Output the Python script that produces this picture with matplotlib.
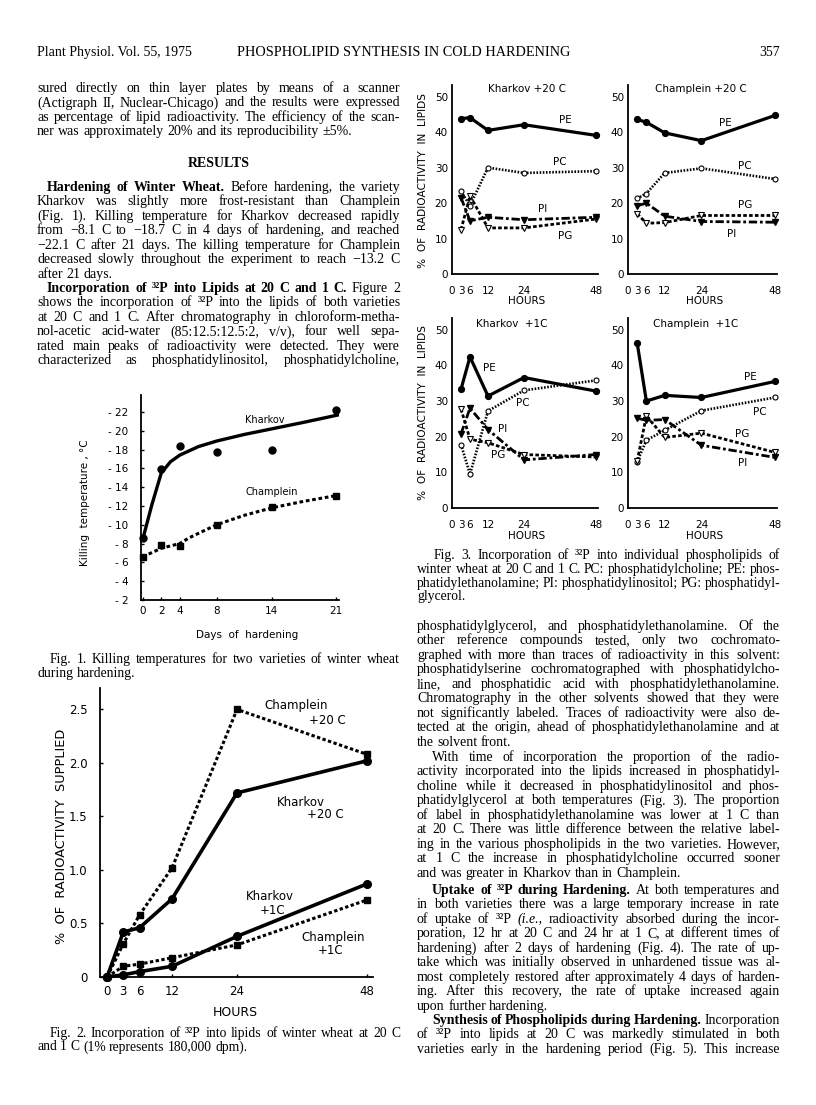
import re
import matplotlib
matplotlib.use("Agg")
import matplotlib.pyplot as plt

# ---------------- Fig. 1: killing temperature (C) vs days of hardening
fig1_days = [0, 2, 4, 8, 14, 21]
kharkov_kill = [-8.6, -15.9, -18.4, -17.7, -17.9, -22.2]
champlein_kill = [-6.6, -7.9, -7.7, -10.0, -11.9, -13.1]
# hand drawn trend curves
kharkov_curve_days = [0, 1, 2, 3, 4, 6, 8, 11, 14, 17.5, 21.3]
kharkov_curve = [-8.5, -12.2, -15.5, -16.7, -17.4, -18.3, -18.9, -19.6, -20.2, -20.9, -21.7]
champlein_curve_days = [0, 2, 4, 5, 8, 11, 14, 17.5, 21]
champlein_curve = [-6.6, -7.5, -8.0, -8.6, -10.0, -11.0, -11.8, -12.5, -13.1]
fig1_yticks = [-22, -20, -18, -16, -14, -12, -10, -8, -6, -4, -2]

# ---------------- Fig. 2: % of radioactivity supplied vs hours
fig2_hours = [0, 3, 6, 12, 24, 48]
kharkov_20 = [0.0, 0.42, 0.46, 0.73, 1.72, 2.02]
champlein_20 = [0.0, 0.31, 0.58, 1.02, 2.50, 2.08]
kharkov_1 = [0.0, 0.02, 0.05, 0.10, 0.38, 0.87]
champlein_1 = [0.0, 0.10, 0.12, 0.18, 0.30, 0.72]
fig2_yticks = [0, 0.5, 1.0, 1.5, 2.0, 2.5]
fig2_ylabels = ["0", "0.5", "1.0", "1.5", "2.0", "2.5"]

# ---------------- Fig. 3: % of radioactivity in lipids
fig3_hours = [3, 6, 12, 24, 48]
fig3_ticks = [0, 3, 6, 12, 24, 48]
kh20_pe = [43.8, 44.1, 40.5, 42.1, 39.1]
kh20_pc = [23.3, 19.3, 30.0, 28.5, 29.0]
kh20_pi = [21.5, 15.0, 16.0, 15.3, 16.0]
kh20_pg = [12.5, 22.0, 13.0, 13.0, 15.5]
ch20_pe = [43.6, 42.8, 39.8, 37.6, 44.7]
ch20_pc = [21.3, 22.7, 28.5, 29.8, 26.8]
ch20_pi = [19.2, 20.0, 16.3, 14.8, 14.6]
ch20_pg = [17.0, 14.3, 14.5, 16.5, 16.5]
kh1_pe = [33.3, 42.4, 31.4, 36.6, 32.8]
kh1_pc = [17.8, 9.5, 27.2, 33.0, 35.8]
kh1_pi = [20.8, 28.0, 22.0, 13.5, 15.0]
kh1_pg = [27.8, 19.3, 18.3, 15.0, 14.3]
ch1_pe = [46.3, 30.0, 31.6, 31.0, 35.5]
ch1_pc = [13.0, 19.0, 21.8, 27.3, 31.0]
ch1_pi = [25.2, 24.6, 24.8, 17.6, 14.2]
ch1_pg = [13.2, 25.8, 19.8, 21.0, 15.6]

# ---------------- page text
left_top = [
    "sured directly on thin layer plates by means of a scanner",
    "(Actigraph II, Nuclear-Chicago) and the results were expressed",
    "as percentage of lipid radioactivity. The efficiency of the scan-",
    "ner was approximately 20% and its reproducibility ±5%.",
]
left_hardening = [
    "**Hardening of Winter Wheat.** Before hardening, the variety",
    "Kharkov was slightly more frost-resistant than Champlein",
    "(Fig. 1). Killing temperature for Kharkov decreased rapidly",
    "from −8.1 C to −18.7 C in 4 days of hardening, and reached",
    "−22.1 C after 21 days. The killing temperature for Champlein",
    "decreased slowly throughout the experiment to reach −13.2 C",
    "after 21 days.",
]
left_incorp = [
    "**Incorporation of ³²P into Lipids at 20 C and 1 C.** Figure 2",
    "shows the incorporation of ³²P into the lipids of both varieties",
    "at 20 C and 1 C. After chromatography in chloroform-metha-",
    "nol-acetic acid-water (85:12.5:12.5:2, v/v), four well sepa-",
    "rated main peaks of radioactivity were detected. They were",
    "characterized as phosphatidylinositol, phosphatidylcholine,",
]
cap1 = [
    "Fig. 1. Killing temperatures for two varieties of winter wheat",
    "during hardening.",
]
cap2 = [
    "Fig. 2. Incorporation of ³²P into lipids of winter wheat at 20 C",
    "and 1 C (1% represents 180,000 dpm).",
]
cap3 = [
    "Fig. 3. Incorporation of ³²P into individual phospholipids of",
    "winter wheat at 20 C and 1 C. PC: phosphatidylcholine; PE: phos-",
    "phatidylethanolamine; PI: phosphatidylinositol; PG: phosphatidyl-",
    "glycerol.",
]
right_cont = [
    "phosphatidylglycerol, and phosphatidylethanolamine. Of the",
    "other reference compounds tested, only two cochromato-",
    "graphed with more than traces of radioactivity in this solvent:",
    "phosphatidylserine cochromatographed with phosphatidylcho-",
    "line, and phosphatidic acid with phosphatidylethanolamine.",
    "Chromatography in the other solvents showed that they were",
    "not significantly labeled. Traces of radioactivity were also de-",
    "tected at the origin, ahead of phosphatidylethanolamine and at",
    "the solvent front.",
]
right_time = [
    "With time of incorporation the proportion of the radio-",
    "activity incorporated into the lipids increased in phosphatidyl-",
    "choline while it decreased in phosphatidylinositol and phos-",
    "phatidylglycerol at both temperatures (Fig. 3). The proportion",
    "of label in phosphatidylethanolamine was lower at 1 C than",
    "at 20 C. There was little difference between the relative label-",
    "ing in the various phospholipids in the two varieties. However,",
    "at 1 C the increase in phosphatidylcholine occurred sooner",
    "and was greater in Kharkov than in Champlein.",
]
right_uptake = [
    "**Uptake of ³²P during Hardening.** At both temperatures and",
    "in both varieties there was a large temporary increase in rate",
    "of uptake of ³²P __(i.e.,__ radioactivity absorbed during the incor-",
    "poration, 12 hr at 20 C and 24 hr at 1 C, at different times of",
    "hardening) after 2 days of hardening (Fig. 4). The rate of up-",
    "take which was initially observed in unhardened tissue was al-",
    "most completely restored after approximately 4 days of harden-",
    "ing. After this recovery, the rate of uptake increased again",
    "upon further hardening.",
]
right_synth = [
    "**Synthesis of Phospholipids during Hardening.** Incorporation",
    "of ³²P into lipids at 20 C was markedly stimulated in both",
    "varieties early in the hardening period (Fig. 5). This increase",
]

W, H = 816, 1105
SERIF = "Liberation Serif"
SANS = "DejaVu Sans"

fig = plt.figure(figsize=(W / 100, H / 100), dpi=100)
fig.patch.set_facecolor("white")
renderer = fig.canvas.get_renderer()


def put(x, y, s, size=10, family=SERIF, ha="left", va="baseline", **kw):
    # x, y in page pixels from the top left corner
    return fig.text(x / W, 1 - y / H, s, fontsize=size, family=family,
                    ha=ha, va=va, color="black", **kw)


def split_words(line):
    words, bold, ital, new = [], False, False, True
    for part in re.split(r"(\*\*|__)", line):
        if part == "**":
            bold = not bold
            continue
        if part == "__":
            ital = not ital
            continue
        for i, piece in enumerate(part.split(" ")):
            if i > 0:
                new = True
            if piece == "":
                continue
            if new or not words:
                words.append([piece, bold, ital])
                new = False
            else:
                words[-1][0] += piece
    return words


def text_line(x0, x1, y, line, justify, size):
    arts = []
    for w, b, it in split_words(line):
        t = put(x0, y, w, size=size, fontweight="bold" if b else "normal",
                fontstyle="italic" if it else "normal")
        arts.append([t, t.get_window_extent(renderer).width])
    total = sum(a[1] for a in arts)
    space = size * 0.25 * 100 / 72
    if justify and len(arts) > 1:
        gap = (x1 - x0 - total) / (len(arts) - 1)
        if gap < 1.5:
            # squeeze the line a little when it is too long
            scale = (x1 - x0 - 1.5 * (len(arts) - 1)) / total
            for a in arts:
                a[0].set_fontsize(size * scale)
                a[1] *= scale
            gap = 1.5
    else:
        gap = space
    x = x0
    for t, wd in arts:
        t.set_x(x / W)
        x += wd + gap


def block(x0, x1, y0, lines, step=14.45, indent=0, ends=True, size=10):
    for i, line in enumerate(lines):
        last = i == len(lines) - 1
        text_line(x0 + (indent if i == 0 else 0), x1, y0 + i * step, line,
                  not (last and ends), size)


def axes_px(left, top, right, bottom):
    ax = fig.add_axes([left / W, 1 - bottom / H, (right - left) / W, (bottom - top) / H])
    for s in ("top", "right"):
        ax.spines[s].set_visible(False)
    for s in ("left", "bottom"):
        ax.spines[s].set_linewidth(1.3)
    ax.patch.set_alpha(0)
    ax.tick_params(direction="in", length=2.5, width=1.0, colors="black")
    return ax


# ---------------- header
put(37, 56, "Plant Physiol. Vol. 55, 1975", size=10)
put(237, 56, "PHOSPHOLIPID SYNTHESIS IN COLD HARDENING", size=10.3)
put(780, 56, "357", size=10, ha="right")

# ---------------- left column text
LX0, LX1 = 37, 400
block(LX0, LX1, 92, left_top)
put((LX0 + LX1) / 2, 167, "RESULTS", size=10, ha="center", fontweight="bold")
block(LX0, LX1, 191, left_hardening, indent=10)
block(LX0, LX1, 292, left_incorp, indent=10, ends=False)

# ---------------- Fig. 1
ax1 = axes_px(141, 395, 339, 600)
ax1.plot(kharkov_curve_days, kharkov_curve, color="black", lw=2.4,
         solid_capstyle="round", solid_joinstyle="round")
ax1.plot(champlein_curve_days, champlein_curve, color="black", lw=2.2,
         ls=(0, (1.2, 0.9)))
ax1.plot(fig1_days, kharkov_kill, "o", color="black", ms=5, clip_on=False)
ax1.plot(fig1_days, champlein_kill, "s", color="black", ms=4.5, clip_on=False)
ax1.set_xlim(-0.2, 21.3)
ax1.set_ylim(-2, -23.8)
ax1.set_xticks(fig1_days)
ax1.set_xticklabels([str(d) for d in fig1_days], family=SANS, fontsize=7.5)
ax1.set_yticks(fig1_yticks)
ax1.set_yticklabels(["- %d" % abs(v) for v in fig1_yticks], family=SANS, fontsize=7.5)
ax1.tick_params(axis="y", pad=9)
ax1.tick_params(axis="x", pad=4)
put(265, 420, "Kharkov", size=7, family=SANS, ha="center", va="center")
put(272, 492, "Champlein", size=7, family=SANS, ha="center", va="center")
put(85, 503, "Killing  temperature , °C", size=7.5, family=SANS, ha="center",
    va="center", rotation=90)
put(247, 635, "Days  of  hardening", size=7.5, family=SANS, ha="center", va="center")
block(LX0, LX1, 663, cap1, step=13.5, indent=13, size=9.8)

# ---------------- Fig. 2
ax2 = axes_px(100, 688, 373, 977)
dash = (0, (1.1, 0.8))
ax2.plot(fig2_hours, champlein_20, color="black", lw=2.2, ls=dash,
         marker="s", ms=5, clip_on=False)
ax2.plot(fig2_hours, kharkov_20, color="black", lw=2.6, marker="o", ms=5.5,
         clip_on=False)
ax2.plot(fig2_hours, champlein_1, color="black", lw=2.2, ls=dash,
         marker="s", ms=5, clip_on=False)
ax2.plot(fig2_hours, kharkov_1, color="black", lw=2.6, marker="o", ms=5.5,
         clip_on=False)
ax2.set_xlim(-1.3, 49.1)
ax2.set_ylim(0, 2.7)
ax2.set_xticks(fig2_hours)
ax2.set_xticklabels([str(h) for h in fig2_hours], family=SANS, fontsize=8.5)
ax2.set_yticks(fig2_yticks)
ax2.set_yticklabels(fig2_ylabels, family=SANS, fontsize=8.5)
ax2.tick_params(axis="y", pad=9)
ax2.tick_params(axis="x", pad=6)
put(296, 705, "Champlein", size=8.5, family=SANS, ha="center", va="center")
put(327, 720, "+20 C", size=8.5, family=SANS, ha="center", va="center")
put(301, 802, "Kharkov", size=8.5, family=SANS, ha="center", va="center")
put(325, 815, "+20 C", size=8.5, family=SANS, ha="center", va="center")
put(270, 897, "Kharkov", size=8.5, family=SANS, ha="center", va="center")
put(273, 910, "+1C", size=8.5, family=SANS, ha="center", va="center")
put(333, 938, "Champlein", size=8.5, family=SANS, ha="center", va="center")
put(331, 951, "+1C", size=8.5, family=SANS, ha="center", va="center")
put(62, 836, "%  OF  RADIOACTIVITY  SUPPLIED", size=9.3, family=SANS, ha="center",
    va="center", rotation=90)
put(235, 1012, "HOURS", size=9, family=SANS, ha="center", va="center")
block(LX0, LX1, 1037, cap2, step=13.5, indent=13, size=9.8)


# ---------------- Fig. 3
def panel(box, pe, pc, pi, pg, title, tpos, labels, hours_y):
    ax = axes_px(*box)
    ax.plot(fig3_hours, pc, color="black", lw=1.9, ls=(0, (0.6, 0.6)),
            marker="o", ms=3.6, mfc="white", mew=0.8, clip_on=False)
    ax.plot(fig3_hours, pg, color="black", lw=2.0, ls=(0, (1.3, 0.8)),
            marker="v", ms=3.8, mfc="white", mew=0.8, clip_on=False)
    ax.plot(fig3_hours, pi, color="black", lw=2.0, ls=(0, (3.0, 1.0, 1.0, 1.0)),
            marker="v", ms=3.8, clip_on=False)
    ax.plot(fig3_hours, pe, color="black", lw=2.3, marker="o", ms=4.2,
            clip_on=False)
    ax.set_xlim(0, 48.7)
    ax.set_ylim(0, 53.3)
    ax.set_xticks(fig3_ticks)
    ax.set_xticklabels([str(h) for h in fig3_ticks], family=SANS, fontsize=7.5)
    ax.set_yticks([0, 10, 20, 30, 40, 50])
    ax.set_yticklabels(["0", "10", "20", "30", "40", "50"], family=SANS, fontsize=7.5)
    ax.tick_params(axis="y", pad=3, length=0)
    ax.tick_params(axis="x", pad=9, length=0)
    put(tpos[0], tpos[1], title, size=7.5, family=SANS, ha="center", va="center")
    for name, (x, y) in labels.items():
        put(x, y, name, size=7.5, family=SANS, ha="center", va="center")
    put((box[0] + box[2]) / 2 + 2, hours_y, "HOURS", size=7.5, family=SANS,
        ha="center", va="center")
    return ax


panel((452, 85, 598, 274), kh20_pe, kh20_pc, kh20_pi, kh20_pg,
      "Kharkov +20 C", (527, 89),
      {"PE": (565, 120), "PC": (560, 162), "PI": (543, 209), "PG": (565, 236)}, 301)
panel((628, 85, 777, 274), ch20_pe, ch20_pc, ch20_pi, ch20_pg,
      "Champlein +20 C", (701, 89),
      {"PE": (725, 123), "PC": (745, 166), "PG": (745, 205), "PI": (732, 234)}, 301)
panel((452, 318, 598, 508), kh1_pe, kh1_pc, kh1_pi, kh1_pg,
      "Kharkov  +1C", (512, 324),
      {"PE": (489, 368), "PC": (523, 403), "PI": (503, 429), "PG": (498, 455)}, 536)
panel((628, 318, 777, 508), ch1_pe, ch1_pc, ch1_pi, ch1_pg,
      "Champlein  +1C", (696, 324),
      {"PE": (750, 377), "PC": (760, 412), "PG": (742, 434), "PI": (743, 463)}, 536)
put(423, 180, "%  OF  RADIOACTIVITY  IN  LIPIDS", size=7.6, family=SANS, ha="center",
    va="center", rotation=90)
put(423, 412, "%  OF  RADIOACTIVITY  IN  LIPIDS", size=7.6, family=SANS, ha="center",
    va="center", rotation=90)

# ---------------- right column text
RX0, RX1 = 417, 780
block(RX0, RX1, 559, cap3, step=13.8, indent=17, size=9.8)
block(RX0, RX1, 630, right_cont)
block(RX0, RX1, 761, right_time, indent=15)
block(RX0, RX1, 894, right_uptake, indent=15)
block(RX0, RX1, 1024, right_synth, indent=15, ends=False)

fig.savefig("out.png", dpi=100, facecolor="white")
